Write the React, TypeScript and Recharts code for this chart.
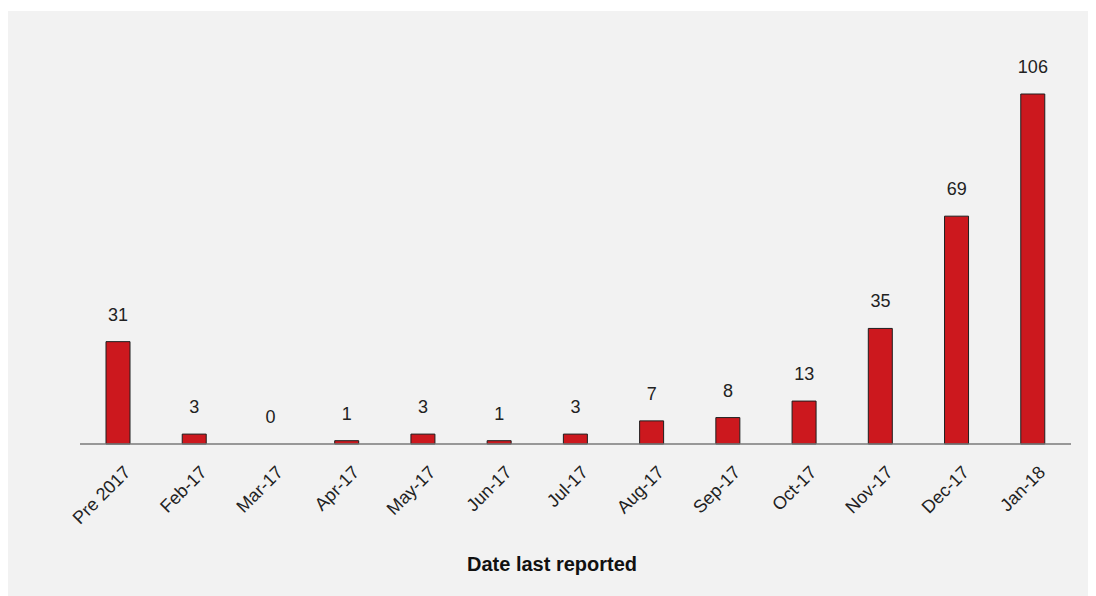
import React from "react";
import { Bar, ComposedChart, LabelList, Line, XAxis, YAxis } from "recharts";

const categories = [
  "Pre 2017",
  "Feb-17",
  "Mar-17",
  "Apr-17",
  "May-17",
  "Jun-17",
  "Jul-17",
  "Aug-17",
  "Sep-17",
  "Oct-17",
  "Nov-17",
  "Dec-17",
  "Jan-18",
];
const counts = [31, 3, 0, 1, 3, 1, 3, 7, 8, 13, 35, 69, 106];
const axisTitle = "Date last reported";

const data = categories.map((period, i) => ({ period, count: counts[i] }));

const FONT = '"Liberation Sans", Arial, sans-serif';

function SlantedTick(props: any) {
  const { x, y, payload } = props;
  return (
    <g transform={`translate(${x + 9},${y + 25})`}>
      <text
        x={0}
        y={0}
        dy="0.35em"
        textAnchor="end"
        transform="rotate(-45)"
        fontSize={18}
        fontFamily={FONT}
        fill="#222"
      >
        {payload.value}
      </text>
    </g>
  );
}

export default function App() {
  return (
    <div
      style={{
        position: "relative",
        marginTop: 3,
        width: 1088,
        height: 585,
        background: "#f2f2f2",
        fontFamily: FONT,
      }}
    >
      <ComposedChart
        width={1088}
        height={585}
        data={data}
        margin={{ top: 83, right: 25, bottom: 62, left: 72 }}
      >
        <XAxis
          dataKey="period"
          interval={0}
          tickLine={false}
          tickSize={0}
          tickMargin={0}
          height={90}
          axisLine={{ stroke: "#7a7a7a", strokeWidth: 1.5 }}
          tick={<SlantedTick />}
        />
        <YAxis hide domain={[0, 106]} />
        <Bar
          dataKey="count"
          fill="#cc181e"
          stroke="#1e1e1e"
          strokeWidth={1}
          barSize={24}
          isAnimationActive={false}
        />
        {/* invisible line only carries the value labels, so the 0 gets one too */}
        <Line
          dataKey="count"
          stroke="none"
          dot={false}
          activeDot={false}
          isAnimationActive={false}
        >
          <LabelList
            dataKey="count"
            position="top"
            offset={21}
            fontSize={18}
            fontFamily={FONT}
            fill="#222"
          />
        </Line>
      </ComposedChart>
      <div
        style={{
          position: "absolute",
          left: 0,
          width: 1088,
          top: 542,
          textAlign: "center",
          fontSize: 20,
          fontWeight: 600,
          color: "#111",
        }}
      >
        {axisTitle}
      </div>
    </div>
  );
}
